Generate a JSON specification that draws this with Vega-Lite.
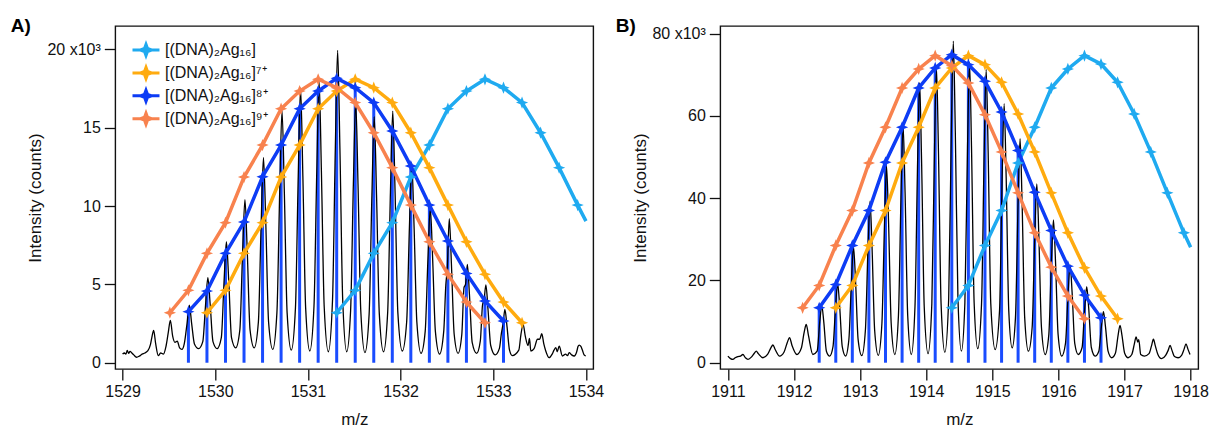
{
"$schema": "https://vega.github.io/schema/vega-lite/v6.json",
"background": "white",
"padding": {"left": 9.3, "top": 15, "right": 0, "bottom": 0},
"bounds": "flush",
"spacing": 127,
"config": {
 "font": "Liberation Sans",
 "view": {"stroke": "#111", "strokeWidth": 1.4},
 "axis": {"domain": false, "grid": false, "ticks": true, "tickSize": 11, "tickWidth": 1.3, "tickColor": "#111", "labelFont": "Liberation Sans", "labelFontSize": 16, "labelColor": "#111", "titleFont": "Liberation Sans", "titleFontSize": 17, "titleFontWeight": "normal", "titleColor": "#111", "labelPadding": 4},
 "title": {"anchor": "start", "frame": "group", "fontSize": 19, "fontWeight": "bold", "color": "#000", "font": "Liberation Sans", "baseline": "alphabetic", "offset": -10, "dx": -104.5},
 "legend": {"orient": "none", "legendX": 21.7, "legendY": 15, "title": null, "padding": 0, "offset": 0, "labelFont": "Liberation Sans", "labelFontSize": 16, "labelColor": "#111", "symbolType": "M-1.8,0L1.8,0M0,-0.75L0.2,-0.2L0.75,0L0.2,0.2L0,0.75L-0.2,0.2L-0.75,0L-0.2,-0.2Z", "symbolSize": 225, "symbolStrokeWidth": 3, "labelOffset": 10, "rowPadding": -1.1}
},
"datasets": {
 "specA": [
  {"x":1529.000,"y":0.55},{"x":1529.020,"y":0.62},{"x":1529.035,"y":0.55},{"x":1529.050,"y":0.78},{"x":1529.065,"y":0.60},{"x":1529.080,"y":0.72},{"x":1529.100,"y":0.62},{"x":1529.120,"y":0.50},{"x":1529.150,"y":0.35},{"x":1529.180,"y":0.42},{"x":1529.210,"y":0.55},{"x":1529.240,"y":0.62},{"x":1529.270,"y":0.75},{"x":1529.300,"y":1.15},{"x":1529.315,"y":1.6},{"x":1529.335,"y":2.06},{"x":1529.357,"y":1.2},{"x":1529.385,"y":0.45},{"x":1529.410,"y":0.62},{"x":1529.440,"y":0.55},{"x":1529.468,"y":1.05},{"x":1529.492,"y":1.9},{"x":1529.515,"y":2.7},{"x":1529.540,"y":1.7},{"x":1529.565,"y":1.3},{"x":1529.590,"y":1.38},{"x":1529.615,"y":0.95},{"x":1529.640,"y":0.85},
  {"x":1529.665,"y":1.2},{"x":1529.695,"y":2.5},{"x":1529.720,"y":3.68},{"x":1529.745,"y":2.5},{"x":1529.775,"y":1.2},{"x":1529.820,"y":0.90},
  {"x":1529.865,"y":1.35},{"x":1529.895,"y":3.7},{"x":1529.920,"y":5.43},{"x":1529.945,"y":3.7},{"x":1529.975,"y":1.35},{"x":1530.020,"y":0.90},
  {"x":1530.065,"y":1.6},{"x":1530.095,"y":5.25},{"x":1530.120,"y":7.72},{"x":1530.145,"y":5.25},{"x":1530.175,"y":1.6},{"x":1530.220,"y":0.95},
  {"x":1530.265,"y":2.1},{"x":1530.295,"y":7.1},{"x":1530.320,"y":10.4},{"x":1530.345,"y":7.1},{"x":1530.375,"y":2.1},{"x":1530.420,"y":0.95},
  {"x":1530.465,"y":2.6},{"x":1530.495,"y":8.9},{"x":1530.520,"y":13.1},{"x":1530.545,"y":8.9},{"x":1530.575,"y":2.6},{"x":1530.620,"y":0.85},
  {"x":1530.665,"y":3.2},{"x":1530.695,"y":10.9},{"x":1530.720,"y":16.1},{"x":1530.745,"y":10.9},{"x":1530.775,"y":3.2},{"x":1530.820,"y":0.80},
  {"x":1530.865,"y":3.5},{"x":1530.895,"y":11.9},{"x":1530.920,"y":17.55},{"x":1530.945,"y":11.9},{"x":1530.975,"y":3.5},{"x":1531.020,"y":0.75},
  {"x":1531.065,"y":3.6},{"x":1531.095,"y":12.2},{"x":1531.120,"y":17.98},{"x":1531.145,"y":12.2},{"x":1531.175,"y":3.6},{"x":1531.220,"y":0.70},
  {"x":1531.265,"y":4.0},{"x":1531.295,"y":13.6},{"x":1531.320,"y":19.94},{"x":1531.345,"y":13.6},{"x":1531.375,"y":4.0},{"x":1531.418,"y":0.70},
  {"x":1531.460,"y":3.3},{"x":1531.490,"y":11.4},{"x":1531.515,"y":16.7},{"x":1531.540,"y":11.4},{"x":1531.570,"y":3.3},{"x":1531.615,"y":0.65},
  {"x":1531.660,"y":3.1},{"x":1531.690,"y":10.7},{"x":1531.715,"y":15.7},{"x":1531.740,"y":10.7},{"x":1531.770,"y":3.1},{"x":1531.815,"y":0.70},
  {"x":1531.860,"y":3.2},{"x":1531.890,"y":10.9},{"x":1531.915,"y":16.06},{"x":1531.940,"y":10.9},{"x":1531.970,"y":3.2},{"x":1532.018,"y":0.75},
  {"x":1532.065,"y":2.6},{"x":1532.095,"y":8.7},{"x":1532.120,"y":12.77},{"x":1532.145,"y":8.7},{"x":1532.175,"y":2.6},{"x":1532.220,"y":0.60},
  {"x":1532.265,"y":2.0},{"x":1532.295,"y":6.7},{"x":1532.320,"y":9.9},{"x":1532.345,"y":6.7},{"x":1532.375,"y":2.0},{"x":1532.420,"y":0.55},
  {"x":1532.465,"y":2.0},{"x":1532.488,"y":5.0},{"x":1532.503,"y":6.0},{"x":1532.525,"y":9.2},{"x":1532.548,"y":6.3},{"x":1532.578,"y":1.8},{"x":1532.620,"y":0.60},
  {"x":1532.660,"y":1.8},{"x":1532.684,"y":4.8},{"x":1532.700,"y":5.0},{"x":1532.720,"y":6.28},{"x":1532.743,"y":4.3},{"x":1532.772,"y":1.3},{"x":1532.820,"y":0.60},
  {"x":1532.860,"y":1.4},{"x":1532.884,"y":3.7},{"x":1532.900,"y":4.0},{"x":1532.920,"y":4.96},{"x":1532.943,"y":3.4},{"x":1532.972,"y":1.1},{"x":1533.020,"y":0.50},
  {"x":1533.065,"y":0.90},{"x":1533.088,"y":1.9},{"x":1533.108,"y":2.6},{"x":1533.125,"y":3.4},{"x":1533.148,"y":2.3},{"x":1533.175,"y":0.80},{"x":1533.205,"y":0.45},
  {"x":1533.275,"y":0.80},{"x":1533.298,"y":1.8},{"x":1533.322,"y":2.45},{"x":1533.345,"y":1.7},{"x":1533.375,"y":1.1},{"x":1533.390,"y":1.55},{"x":1533.405,"y":0.75},{"x":1533.440,"y":0.90},{"x":1533.477,"y":1.5},{"x":1533.500,"y":1.5},{"x":1533.523,"y":1.85},{"x":1533.545,"y":1.2},{"x":1533.566,"y":0.75},{"x":1533.603,"y":0.32},{"x":1533.635,"y":0.55},{"x":1533.655,"y":0.80},{"x":1533.675,"y":0.96},{"x":1533.690,"y":0.70},{"x":1533.711,"y":1.06},{"x":1533.746,"y":0.43},{"x":1533.780,"y":0.55},{"x":1533.800,"y":0.45},{"x":1533.819,"y":0.64},{"x":1533.845,"y":0.50},{"x":1533.873,"y":0.43},{"x":1533.900,"y":0.70},{"x":1533.915,"y":1.05},{"x":1533.927,"y":1.13},{"x":1533.945,"y":1.05},{"x":1533.962,"y":0.79},{"x":1533.980,"y":0.50},{"x":1533.998,"y":0.43}
 ],
 "serA": [
  {"s":"c0","x":1531.31,"y":3.19},{"s":"c0","x":1531.51,"y":4.62},{"s":"c0","x":1531.71,"y":6.98},{"s":"c0","x":1531.91,"y":8.94},{"s":"c0","x":1532.11,"y":11.85},{"s":"c0","x":1532.31,"y":13.89},{"s":"c0","x":1532.51,"y":16.21},{"s":"c0","x":1532.71,"y":17.34},{"s":"c0","x":1532.91,"y":18.09},{"s":"c0","x":1533.11,"y":17.55},{"s":"c0","x":1533.31,"y":16.60},{"s":"c0","x":1533.51,"y":14.68},{"s":"c0","x":1533.71,"y":12.45},{"s":"c0","x":1533.91,"y":10.06},{"s":"c0","x":1534.0,"y":9.04,"e":1},
  {"s":"c7","x":1529.91,"y":3.19},{"s":"c7","x":1530.11,"y":4.62},{"s":"c7","x":1530.31,"y":6.98},{"s":"c7","x":1530.51,"y":8.94},{"s":"c7","x":1530.71,"y":11.85},{"s":"c7","x":1530.91,"y":13.89},{"s":"c7","x":1531.11,"y":16.21},{"s":"c7","x":1531.31,"y":17.34},{"s":"c7","x":1531.51,"y":18.09},{"s":"c7","x":1531.71,"y":17.55},{"s":"c7","x":1531.91,"y":16.60},{"s":"c7","x":1532.11,"y":14.68},{"s":"c7","x":1532.31,"y":12.45},{"s":"c7","x":1532.51,"y":10.06},{"s":"c7","x":1532.71,"y":7.72},{"s":"c7","x":1532.91,"y":5.64},{"s":"c7","x":1533.11,"y":3.87},{"s":"c7","x":1533.31,"y":2.55},
  {"s":"c8","x":1529.71,"y":3.26},{"s":"c8","x":1529.91,"y":4.57},{"s":"c8","x":1530.11,"y":6.98},{"s":"c8","x":1530.31,"y":8.98},{"s":"c8","x":1530.51,"y":11.87},{"s":"c8","x":1530.71,"y":13.89},{"s":"c8","x":1530.91,"y":16.21},{"s":"c8","x":1531.11,"y":17.34},{"s":"c8","x":1531.31,"y":18.15},{"s":"c8","x":1531.51,"y":17.55},{"s":"c8","x":1531.71,"y":16.60},{"s":"c8","x":1531.91,"y":14.79},{"s":"c8","x":1532.11,"y":12.55},{"s":"c8","x":1532.31,"y":10.06},{"s":"c8","x":1532.51,"y":7.77},{"s":"c8","x":1532.71,"y":5.70},{"s":"c8","x":1532.91,"y":3.94},{"s":"c8","x":1533.11,"y":2.66},
  {"s":"c9","x":1529.51,"y":3.19},{"s":"c9","x":1529.71,"y":4.62},{"s":"c9","x":1529.91,"y":6.98},{"s":"c9","x":1530.11,"y":8.94},{"s":"c9","x":1530.31,"y":11.85},{"s":"c9","x":1530.51,"y":13.89},{"s":"c9","x":1530.71,"y":16.21},{"s":"c9","x":1530.91,"y":17.34},{"s":"c9","x":1531.11,"y":18.09},{"s":"c9","x":1531.31,"y":17.55},{"s":"c9","x":1531.51,"y":16.60},{"s":"c9","x":1531.71,"y":14.68},{"s":"c9","x":1531.91,"y":12.45},{"s":"c9","x":1532.11,"y":10.06},{"s":"c9","x":1532.31,"y":7.72},{"s":"c9","x":1532.51,"y":5.64},{"s":"c9","x":1532.71,"y":3.87},{"s":"c9","x":1532.91,"y":2.55}
 ],
 "specB": [
  {"x":1911.000,"y":1.6},{"x":1911.040,"y":1.0},{"x":1911.076,"y":0.8},{"x":1911.110,"y":1.2},{"x":1911.150,"y":1.5},{"x":1911.190,"y":1.6},{"x":1911.227,"y":2.0},{"x":1911.265,"y":1.2},{"x":1911.303,"y":0.8},{"x":1911.350,"y":1.3},{"x":1911.400,"y":2.3},{"x":1911.429,"y":2.8},{"x":1911.460,"y":2.2},{"x":1911.530,"y":1.2},{"x":1911.600,"y":2.0},{"x":1911.650,"y":3.6},{"x":1911.681,"y":4.3},{"x":1911.715,"y":3.2},{"x":1911.782,"y":1.6},{"x":1911.850,"y":2.6},{"x":1911.900,"y":5.0},{"x":1911.933,"y":6.1},{"x":1911.970,"y":4.2},{"x":1912.044,"y":2.0},{"x":1912.110,"y":3.5},{"x":1912.155,"y":7.5},{"x":1912.185,"y":9.3},{"x":1912.220,"y":6.5},{"x":1912.285,"y":2.0},
  {"x":1912.350,"y":2.8},{"x":1912.390,"y":10.0},{"x":1912.420,"y":13.9},{"x":1912.450,"y":10.0},{"x":1912.490,"y":2.8},{"x":1912.540,"y":1.6},
  {"x":1912.590,"y":3.9},{"x":1912.630,"y":13.9},{"x":1912.660,"y":19.3},{"x":1912.690,"y":13.9},{"x":1912.730,"y":3.9},{"x":1912.780,"y":1.6},
  {"x":1912.830,"y":5.6},{"x":1912.870,"y":20.3},{"x":1912.900,"y":28.2},{"x":1912.930,"y":20.3},{"x":1912.970,"y":5.6},{"x":1913.025,"y":1.7},
  {"x":1913.080,"y":7.9},{"x":1913.120,"y":28.3},{"x":1913.150,"y":39.3},{"x":1913.180,"y":28.3},{"x":1913.220,"y":7.9},{"x":1913.275,"y":1.8},
  {"x":1913.330,"y":9.6},{"x":1913.370,"y":34.4},{"x":1913.400,"y":47.8},{"x":1913.430,"y":34.4},{"x":1913.470,"y":9.6},{"x":1913.525,"y":2.0},
  {"x":1913.580,"y":11.5},{"x":1913.620,"y":41.5},{"x":1913.650,"y":57.7},{"x":1913.680,"y":41.5},{"x":1913.720,"y":11.5},{"x":1913.775,"y":2.0},
  {"x":1913.830,"y":13.6},{"x":1913.870,"y":49.0},{"x":1913.900,"y":68.1},{"x":1913.930,"y":49.0},{"x":1913.970,"y":13.6},{"x":1914.028,"y":2.2},
  {"x":1914.085,"y":14.3},{"x":1914.125,"y":51.6},{"x":1914.155,"y":71.7},{"x":1914.185,"y":51.6},{"x":1914.225,"y":14.3},{"x":1914.282,"y":2.5},
  {"x":1914.340,"y":15.6},{"x":1914.380,"y":56.3},{"x":1914.410,"y":78.2},{"x":1914.440,"y":56.3},{"x":1914.480,"y":15.6},{"x":1914.532,"y":2.8},
  {"x":1914.585,"y":14.6},{"x":1914.625,"y":52.6},{"x":1914.655,"y":73.1},{"x":1914.685,"y":52.6},{"x":1914.725,"y":14.6},{"x":1914.780,"y":3.4},
  {"x":1914.837,"y":14.3},{"x":1914.877,"y":51.3},{"x":1914.907,"y":71.3},{"x":1914.937,"y":51.3},{"x":1914.977,"y":14.3},{"x":1915.043,"y":3.2},
  {"x":1915.109,"y":12.6},{"x":1915.149,"y":45.4},{"x":1915.179,"y":63.0},{"x":1915.209,"y":45.4},{"x":1915.249,"y":12.6},{"x":1915.300,"y":3.6},
  {"x":1915.350,"y":10.9},{"x":1915.390,"y":39.2},{"x":1915.420,"y":54.5},{"x":1915.450,"y":39.2},{"x":1915.490,"y":10.9},{"x":1915.546,"y":2.8},
  {"x":1915.603,"y":8.7},{"x":1915.643,"y":31.3},{"x":1915.673,"y":43.5},{"x":1915.703,"y":31.3},{"x":1915.743,"y":8.7},{"x":1915.800,"y":2.0},
  {"x":1915.855,"y":6.9},{"x":1915.895,"y":25.0},{"x":1915.925,"y":34.7},{"x":1915.955,"y":25.0},{"x":1915.995,"y":6.9},{"x":1916.050,"y":1.6},
  {"x":1916.107,"y":4.7},{"x":1916.147,"y":17.1},{"x":1916.177,"y":23.7},{"x":1916.207,"y":17.1},{"x":1916.247,"y":4.7},{"x":1916.300,"y":2.0},
  {"x":1916.358,"y":3.7},{"x":1916.398,"y":13.3},{"x":1916.428,"y":18.5},{"x":1916.458,"y":13.3},{"x":1916.498,"y":3.7},{"x":1916.555,"y":1.6},
  {"x":1916.611,"y":2.8},{"x":1916.651,"y":8.9},{"x":1916.681,"y":12.4},{"x":1916.711,"y":8.9},{"x":1916.751,"y":2.8},{"x":1916.806,"y":1.2},
  {"x":1916.862,"y":2.3},{"x":1916.902,"y":6.6},{"x":1916.932,"y":9.1},{"x":1916.962,"y":6.6},{"x":1917.002,"y":2.3},{"x":1917.055,"y":1.2},
  {"x":1917.110,"y":2.0},{"x":1917.148,"y":4.5},{"x":1917.175,"y":6.3},{"x":1917.200,"y":5.0},{"x":1917.215,"y":5.6},{"x":1917.245,"y":2.0},{"x":1917.300,"y":1.6},
  {"x":1917.370,"y":2.2},{"x":1917.408,"y":4.1},{"x":1917.437,"y":5.7},{"x":1917.466,"y":4.1},{"x":1917.505,"y":2.0},{"x":1917.560,"y":1.0},
  {"x":1917.622,"y":1.8},{"x":1917.660,"y":3.0},{"x":1917.689,"y":4.2},{"x":1917.718,"y":3.0},{"x":1917.756,"y":1.5},{"x":1917.810,"y":1.2},
  {"x":1917.863,"y":1.8},{"x":1917.901,"y":3.3},{"x":1917.930,"y":4.6},{"x":1917.959,"y":3.3},{"x":1917.991,"y":2.0}
 ],
 "serB": [
  {"s":"c0","x":1914.387,"y":13.36},{"s":"c0","x":1914.638,"y":18.79},{"s":"c0","x":1914.889,"y":28.50},{"s":"c0","x":1915.140,"y":37.00},{"s":"c0","x":1915.390,"y":48.58},{"s":"c0","x":1915.641,"y":57.25},{"s":"c0","x":1915.892,"y":66.80},{"s":"c0","x":1916.143,"y":71.42},{"s":"c0","x":1916.394,"y":74.66},{"s":"c0","x":1916.644,"y":72.63},{"s":"c0","x":1916.895,"y":68.18},{"s":"c0","x":1917.146,"y":60.49},{"s":"c0","x":1917.397,"y":51.26},{"s":"c0","x":1917.648,"y":41.30},{"s":"c0","x":1917.898,"y":31.58},{"s":"c0","x":1918.0,"y":28.1,"e":1},
  {"s":"c7","x":1912.632,"y":13.36},{"s":"c7","x":1912.882,"y":18.79},{"s":"c7","x":1913.133,"y":28.50},{"s":"c7","x":1913.384,"y":37.00},{"s":"c7","x":1913.635,"y":48.58},{"s":"c7","x":1913.886,"y":57.25},{"s":"c7","x":1914.136,"y":66.80},{"s":"c7","x":1914.387,"y":71.66},{"s":"c7","x":1914.638,"y":74.66},{"s":"c7","x":1914.889,"y":72.47},{"s":"c7","x":1915.140,"y":68.18},{"s":"c7","x":1915.390,"y":60.49},{"s":"c7","x":1915.641,"y":51.26},{"s":"c7","x":1915.892,"y":41.30},{"s":"c7","x":1916.143,"y":31.58},{"s":"c7","x":1916.394,"y":23.08},{"s":"c7","x":1916.644,"y":16.19},{"s":"c7","x":1916.895,"y":10.69},
  {"s":"c8","x":1912.381,"y":13.36},{"s":"c8","x":1912.632,"y":18.99},{"s":"c8","x":1912.882,"y":28.50},{"s":"c8","x":1913.133,"y":37.00},{"s":"c8","x":1913.384,"y":48.74},{"s":"c8","x":1913.635,"y":57.25},{"s":"c8","x":1913.886,"y":66.80},{"s":"c8","x":1914.136,"y":71.66},{"s":"c8","x":1914.387,"y":74.90},{"s":"c8","x":1914.638,"y":72.47},{"s":"c8","x":1914.889,"y":68.42},{"s":"c8","x":1915.140,"y":60.97},{"s":"c8","x":1915.390,"y":51.58},{"s":"c8","x":1915.641,"y":41.46},{"s":"c8","x":1915.892,"y":32.15},{"s":"c8","x":1916.143,"y":23.48},{"s":"c8","x":1916.394,"y":16.44},{"s":"c8","x":1916.644,"y":10.93},
  {"s":"c9","x":1912.130,"y":13.36},{"s":"c9","x":1912.381,"y":18.79},{"s":"c9","x":1912.632,"y":28.50},{"s":"c9","x":1912.882,"y":37.00},{"s":"c9","x":1913.133,"y":48.58},{"s":"c9","x":1913.384,"y":57.25},{"s":"c9","x":1913.635,"y":66.80},{"s":"c9","x":1913.886,"y":71.42},{"s":"c9","x":1914.136,"y":74.66},{"s":"c9","x":1914.387,"y":72.23},{"s":"c9","x":1914.638,"y":68.02},{"s":"c9","x":1914.889,"y":60.32},{"s":"c9","x":1915.140,"y":51.26},{"s":"c9","x":1915.390,"y":41.30},{"s":"c9","x":1915.641,"y":31.58},{"s":"c9","x":1915.892,"y":23.24},{"s":"c9","x":1916.143,"y":16.19},{"s":"c9","x":1916.394,"y":10.69}
 ]
},
"hconcat": [
 {
  "width": 478, "height": 343,
  "title": {"text": "A)"},
  "encoding": {
   "x": {"field": "x", "type": "quantitative", "scale": {"domain": [1528.921, 1534.079], "nice": false, "zero": false}, "axis": {"title": "m/z", "values": [1529,1530,1531,1532,1533,1534], "format": "d", "titlePadding": 12}},
   "y": {"field": "y", "type": "quantitative", "scale": {"domain": [-0.40, 21.49], "nice": false, "zero": false}, "axis": {"title": "Intensity (counts)", "values": [0,5,10,15,20], "labelExpr": "datum.value == 20 ? '20 x10³' : datum.label", "titlePadding": 2.3}}
  },
  "layer": [
   {"data": {"name": "serA"}, "transform": [{"filter": "datum.s == 'c8'"}], "mark": {"type": "rule", "color": "#1a4cff", "strokeWidth": 3}, "encoding": {"y2": {"datum": 0}}},
   {"data": {"name": "specA"}, "mark": {"type": "line", "color": "#000", "strokeWidth": 1.3, "interpolate": "monotone", "clip": true}, "encoding": {}},
   {"data": {"name": "serA"}, "mark": {"type": "line", "strokeWidth": 3.5, "clip": true}, "encoding": {"color": {"field": "s", "type": "nominal", "scale": {"domain": ["c0","c7","c8","c9"], "range": ["#1faaf0","#ffab0f","#0d3cf5","#f8824e"]}, "legend": {"labelExpr": "datum.value == 'c0' ? '[(DNA)₂Ag₁₆]' : datum.value == 'c7' ? '[(DNA)₂Ag₁₆]⁷⁺' : datum.value == 'c8' ? '[(DNA)₂Ag₁₆]⁸⁺' : '[(DNA)₂Ag₁₆]⁹⁺'"}}}},
   {"data": {"name": "serA"}, "transform": [{"filter": "datum.e != 1"}], "mark": {"type": "point", "filled": true, "opacity": 1, "shape": "M0,-1L0.28,-0.28L1,0L0.28,0.28L0,1L-0.28,0.28L-1,0L-0.28,-0.28Z", "size": 150}, "encoding": {"color": {"field": "s", "type": "nominal", "legend": null}}}
  ]
 },
 {
  "width": 478, "height": 343,
  "title": {"text": "B)"},
  "encoding": {
   "x": {"field": "x", "type": "quantitative", "scale": {"domain": [1910.885, 1918.116], "nice": false, "zero": false}, "axis": {"title": "m/z", "values": [1911,1912,1913,1914,1915,1916,1917,1918], "format": "d", "titlePadding": 12}},
   "y": {"field": "y", "type": "quantitative", "scale": {"domain": [-1.53, 81.87], "nice": false, "zero": false}, "axis": {"title": "Intensity (counts)", "values": [0,20,40,60,80], "labelExpr": "datum.value == 80 ? '80 x10³' : datum.label", "titlePadding": 2.3}}
  },
  "layer": [
   {"data": {"name": "serB"}, "transform": [{"filter": "datum.s == 'c8'"}], "mark": {"type": "rule", "color": "#1a4cff", "strokeWidth": 3}, "encoding": {"y2": {"datum": 0}}},
   {"data": {"name": "specB"}, "mark": {"type": "line", "color": "#000", "strokeWidth": 1.3, "interpolate": "monotone", "clip": true}, "encoding": {}},
   {"data": {"name": "serB"}, "mark": {"type": "line", "strokeWidth": 3.5, "clip": true}, "encoding": {"color": {"field": "s", "type": "nominal", "scale": {"domain": ["c0","c7","c8","c9"], "range": ["#1faaf0","#ffab0f","#0d3cf5","#f8824e"]}, "legend": {"labelExpr": "datum.value == 'c0' ? '[(DNA)₂Ag₁₆]' : datum.value == 'c7' ? '[(DNA)₂Ag₁₆]⁷⁺' : datum.value == 'c8' ? '[(DNA)₂Ag₁₆]⁸⁺' : '[(DNA)₂Ag₁₆]⁹⁺'"}}}},
   {"data": {"name": "serB"}, "transform": [{"filter": "datum.e != 1"}], "mark": {"type": "point", "filled": true, "opacity": 1, "shape": "M0,-1L0.28,-0.28L1,0L0.28,0.28L0,1L-0.28,0.28L-1,0L-0.28,-0.28Z", "size": 150}, "encoding": {"color": {"field": "s", "type": "nominal", "legend": null}}}
  ]
 }
]
}
